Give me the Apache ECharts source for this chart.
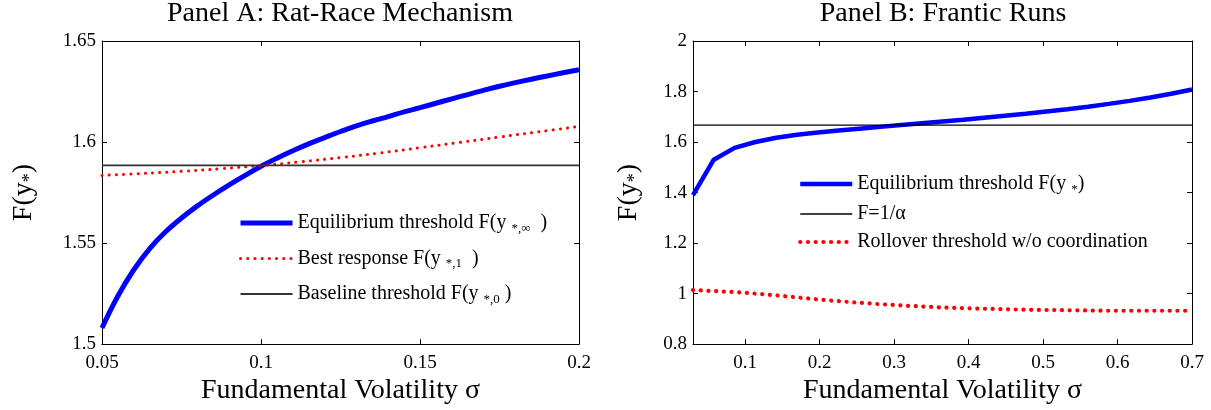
<!DOCTYPE html>
<html>
<head>
<meta charset="utf-8">
<title>Rat-Race Mechanism / Frantic Runs</title>
<script src="https://cdn.jsdelivr.net/npm/echarts@6/dist/echarts.min.js"></script>
<style>
  html, body { margin: 0; padding: 0; background: #fff; }
  #chart { width: 1211px; height: 410px; }
</style>
</head>
<body>
<div id="chart"></div>
<script>
// Panel A: rat-race mechanism
const sigmaA = [0.05, 0.055, 0.06, 0.065, 0.07, 0.075, 0.08, 0.085, 0.09, 0.095, 0.1, 0.105, 0.11, 0.115, 0.12, 0.125,
  0.13, 0.135, 0.14, 0.145, 0.15, 0.155, 0.16, 0.165, 0.17, 0.175, 0.18, 0.185, 0.19, 0.195, 0.2]
const equilibriumA = [1.508, 1.5238, 1.5368, 1.5473, 1.5556, 1.5624, 1.5684, 1.5738, 1.5788, 1.5835, 1.588, 1.592, 1.5957,
  1.5991, 1.6022, 1.6052, 1.608, 1.6104, 1.6126, 1.6149, 1.617, 1.6192, 1.6214, 1.6235, 1.6256, 1.6276, 1.6294, 1.6311,
  1.6327, 1.6343, 1.6358]
const sigmaBestA = [0.05, 0.0625, 0.075, 0.0875, 0.1, 0.1125, 0.125, 0.1375, 0.15, 0.1625, 0.175, 0.1875, 0.2]
const bestResponseA = [1.5835, 1.5844, 1.5855, 1.5868, 1.5884, 1.5902, 1.5923, 1.5946, 1.5972, 1.5998, 1.6025, 1.6051, 1.6077]
const sigmaEndsA = [0.05, 0.2]
const baselineA = [1.5884, 1.5884]
const xTicksA = [0.05, 0.1, 0.15, 0.2]

// Panel B: frantic runs
const sigmaB = [0.03, 0.0579, 0.0858, 0.1138, 0.1417, 0.1696, 0.1975, 0.2254, 0.2533, 0.2813, 0.3092, 0.3371, 0.365,
  0.3929, 0.4208, 0.4488, 0.4767, 0.5046, 0.5325, 0.5604, 0.5883, 0.6163, 0.6442, 0.6721, 0.7]
const equilibriumB = [1.39, 1.53, 1.577, 1.6, 1.617, 1.629, 1.638, 1.646, 1.653, 1.66, 1.667, 1.674, 1.681, 1.688, 1.696,
  1.704, 1.712, 1.721, 1.73, 1.74, 1.751, 1.763, 1.776, 1.791, 1.808]
const rolloverB = [1.014, 1.01, 1.006, 1.0, 0.993, 0.985, 0.977, 0.97, 0.964, 0.958, 0.953, 0.949, 0.945, 0.942, 0.94,
  0.938, 0.936, 0.935, 0.934, 0.933, 0.932, 0.932, 0.932, 0.932, 0.932]
const sigmaEndsB = [0.03, 0.7]
const alphaLineB = [1.6667, 1.6667]
const xTicksB = [0.1, 0.2, 0.3, 0.4, 0.5, 0.6, 0.7]

const SERIF = "'Liberation Serif', 'Times New Roman', serif"

const pairs = (xs, ys) => xs.map((x, i) => [x, ys[i]])

const richText = {
  t: { fontFamily: SERIF, fontSize: 20, lineHeight: 24, color: '#000' },
  s: { fontFamily: SERIF, fontSize: 13, color: '#000', verticalAlign: 'bottom' },
}

const legendLabels = {
  'Equilibrium threshold F(y*,∞)': '{t|Equilibrium threshold F(y }{s|*,∞}{t|  )}',
  'Best response F(y*,1)': '{t|Best response F(y }{s|*,1}{t|  )}',
  'Baseline threshold F(y*,0)': '{t|Baseline threshold F(y }{s|*,0}{t| )}',
  'Equilibrium threshold F(y*)': '{t|Equilibrium threshold F(y }{s|*}{t|)}',
  'F=1/α': '{t|F=1/α}',
  'Rollover threshold w/o coordination': '{t|Rollover threshold w/o coordination}',
}

const xAxisPair = (gridIndex, min, max, ticks, nameGap) => {
  const common = {
    type: 'value',
    gridIndex: gridIndex,
    min: min,
    max: max,
    splitLine: { show: false },
    axisLine: { show: true, onZero: false, lineStyle: { color: '#000', width: 1 } },
    axisTick: { show: true, inside: true, length: 5, customValues: ticks, lineStyle: { color: '#000' } },
  }
  return [
    {
      ...common,
      position: 'bottom',
      name: 'Fundamental Volatility σ',
      nameLocation: 'middle',
      nameGap: nameGap,
      nameTextStyle: { fontFamily: SERIF, fontSize: 28, color: '#000' },
      axisLabel: { customValues: ticks, fontFamily: SERIF, fontSize: 19, color: '#000', margin: 9 },
    },
    { ...common, position: 'top', axisLabel: { show: false } },
  ]
}

const yAxisPair = (gridIndex, min, max, interval, nameGap) => {
  const common = {
    type: 'value',
    gridIndex: gridIndex,
    min: min,
    max: max,
    interval: interval,
    splitLine: { show: false },
    axisLine: { show: true, onZero: false, lineStyle: { color: '#000', width: 1 } },
    axisTick: { show: true, inside: true, length: 5, lineStyle: { color: '#000' } },
  }
  return [
    {
      ...common,
      position: 'left',
      name: '{m|F(y}{s|*}{m|)}',
      nameLocation: 'middle',
      nameGap: nameGap,
      nameTextStyle: {
        rich: {
          m: { fontFamily: SERIF, fontSize: 28, lineHeight: 30, color: '#000' },
          s: { fontFamily: SERIF, fontSize: 18, color: '#000', verticalAlign: 'bottom' },
        },
      },
      axisLabel: { fontFamily: SERIF, fontSize: 19, color: '#000', margin: 6 },
    },
    { ...common, position: 'right', axisLabel: { show: false } },
  ]
}

const lineSeries = (name, xIdx, yIdx, data, color, width, dots, z, smooth) => ({
  name: name,
  type: 'line',
  xAxisIndex: xIdx,
  yAxisIndex: yIdx,
  data: data,
  symbol: 'none',
  showSymbol: false,
  smooth: smooth || false,
  z: z,
  itemStyle: { color: color },
  lineStyle: dots
    ? { color: color, width: width, type: dots, cap: 'round' }
    : { color: color, width: width, type: 'solid' },
})

// legend rows: line sample only, no marker
const legendItem = (name, width) => ({
  name: name,
  itemStyle: { opacity: 0 },
  lineStyle: { width: width },
})

const legendBase = {
  show: true,
  orient: 'vertical',
  padding: 0,
  itemWidth: 52,
  itemHeight: 20,
  selectedMode: false,
  itemStyle: { opacity: 0 },
  formatter: (name) => legendLabels[name] || name,
  textStyle: { rich: richText },
}

const option = {
  animation: false,
  backgroundColor: '#fff',
  title: [
    {
      text: 'Panel A: Rat-Race Mechanism',
      left: 340, top: 0, padding: 0,
      textAlign: 'center',
      textStyle: { fontFamily: SERIF, fontSize: 28, fontWeight: 'normal', color: '#000' },
    },
    {
      text: 'Panel B: Frantic Runs',
      left: 943, top: 0, padding: 0,
      textAlign: 'center',
      textStyle: { fontFamily: SERIF, fontSize: 28, fontWeight: 'normal', color: '#000' },
    },
  ],
  grid: [
    { left: 102, top: 41, width: 477, height: 306, show: false },
    { left: 693, top: 41, width: 499, height: 307, show: false },
  ],
  xAxis: [
    ...xAxisPair(0, 0.05, 0.2, xTicksA, 27),
    ...xAxisPair(1, 0.03, 0.7, xTicksB, 27),
  ],
  yAxis: [
    ...yAxisPair(0, 1.5, 1.65, 0.05, 63),
    ...yAxisPair(1, 0.8, 2, 0.2, 49),
  ],
  legend: [
    {
      ...legendBase,
      left: 238, top: 213,
      itemGap: 13.5,
      data: [
        legendItem('Equilibrium threshold F(y*,∞)', 5),
        legendItem('Best response F(y*,1)', 3),
        legendItem('Baseline threshold F(y*,0)', 1.8),
      ],
    },
    {
      ...legendBase,
      left: 798, top: 174,
      itemGap: 8,
      data: [
        legendItem('Equilibrium threshold F(y*)', 4.5),
        legendItem('F=1/α', 1.3),
        legendItem('Rollover threshold w/o coordination', 4.2),
      ],
    },
  ],
  series: [
    lineSeries('Equilibrium threshold F(y*,∞)', 0, 0, pairs(sigmaA, equilibriumA), '#0000ff', 5, null, 3, 0.4),
    lineSeries('Best response F(y*,1)', 0, 0, pairs(sigmaBestA, bestResponseA), '#ff0000', 3, [0.1, 7.1], 4, 0.4),
    lineSeries('Baseline threshold F(y*,0)', 0, 0, pairs(sigmaEndsA, baselineA), '#333333', 1.8, null, 5),
    lineSeries('Equilibrium threshold F(y*)', 2, 2, pairs(sigmaB, equilibriumB), '#0000ff', 4.5, null, 3),
    lineSeries('F=1/α', 2, 2, pairs(sigmaEndsB, alphaLineB), '#000000', 1.3, null, 4),
    lineSeries('Rollover threshold w/o coordination', 2, 2, pairs(sigmaB, rolloverB), '#ff0000', 4.2, [0.1, 7.6], 5),
  ],
}

const chart = echarts.init(document.getElementById('chart'), null, { renderer: 'canvas' })
chart.setOption(option)
</script>
</body>
</html>
